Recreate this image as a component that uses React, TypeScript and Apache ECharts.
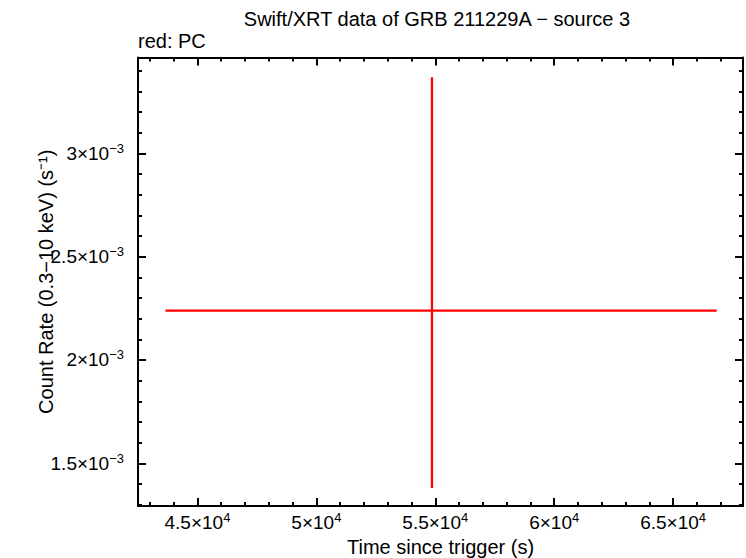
import React from "react";
import * as echarts from "echarts";

// one PC-mode bin: centre, time range and rate range
const times = [54861];
const timeLo = [43655];
const timeHi = [66836];
const rates = [0.0022386];
const rateLo = [0.00138];
const rateHi = [0.003368];

const xMajor = [45000, 50000, 55000, 60000, 65000];
const xMajorLabels = ["4.5", "5", "5.5", "6", "6.5"];
const xExp = "4";
const xMinor = [
  43000, 44000, 46000, 47000, 48000, 49000, 51000, 52000, 53000, 54000, 56000,
  57000, 58000, 59000, 61000, 62000, 63000, 64000, 66000, 67000,
];

const yMajor = [0.0015, 0.002, 0.0025, 0.003];
const yMajorLabels = ["1.5", "2", "2.5", "3"];
const yExp = "\u22123";
const yMinor = [
  0.0013, 0.0014, 0.0016, 0.0017, 0.0018, 0.0019, 0.0021, 0.0022, 0.0023,
  0.0024, 0.0026, 0.0027, 0.0028, 0.0029, 0.0031, 0.0032, 0.0033, 0.0034,
];

const X_MIN = 42500;
const X_MAX = 67940;
const Y_MIN = 0.0012933;
const Y_MAX = 0.0034637;

const FONT = "'Liberation Sans', Arial, Helvetica, sans-serif";
const RED = "#ff0000";

const sciLabel = (ticks: number[], labels: string[], exp: string) => (v: number) => {
  const i = ticks.findIndex((t) => Math.abs(t - v) < Math.abs(t) * 1e-6);
  if (i < 0) return "";
  return `{b|${labels[i]}\u00d710}{s|${exp}}`;
};

const labelRich = {
  b: { fontSize: 19, fontFamily: FONT, color: "#000" },
  s: { fontSize: 13, fontFamily: FONT, color: "#000", padding: [0, 0, 10, 0] },
};

function axisBase(extra: any) {
  return {
    type: "value",
    scale: true,
    splitLine: { show: false },
    axisLine: { show: true, onZero: false, lineStyle: { color: "#000", width: 2 } },
    axisLabel: { show: false },
    nameMoveOverlap: false,
    ...extra,
  };
}

export default function App() {
  const chartRef = React.useRef<HTMLDivElement>(null);

  React.useEffect(() => {
    if (!chartRef.current) return;
    const chart = echarts.init(chartRef.current, undefined, { renderer: "svg" });

    const majorTick = (vals: number[]) => ({
      show: true,
      inside: true,
      length: 8,
      customValues: vals,
      lineStyle: { color: "#000", width: 2 },
    });
    const minorTick = (vals: number[]) => ({
      show: true,
      inside: true,
      length: 4,
      customValues: vals,
      lineStyle: { color: "#000", width: 2 },
    });

    const xs = ["bottom", "top"].flatMap((pos) => [
      axisBase({
        position: pos,
        min: X_MIN,
        max: X_MAX,
        axisTick: majorTick(xMajor),
        axisLabel:
          pos === "bottom"
            ? {
                show: true,
                customValues: xMajor,
                margin: 5,
                formatter: sciLabel(xMajor, xMajorLabels, xExp),
                rich: labelRich,
              }
            : { show: false },
        name: pos === "bottom" ? "Time since trigger (s)" : "",
        nameLocation: "middle",
        nameGap: 31,
        nameTextStyle: { fontSize: 20, fontFamily: FONT, color: "#000" },
      }),
      axisBase({
        position: pos,
        min: X_MIN,
        max: X_MAX,
        axisLine: { show: false },
        axisTick: minorTick(xMinor),
      }),
    ]);

    const ys = ["left", "right"].flatMap((pos) => [
      axisBase({
        position: pos,
        min: Y_MIN,
        max: Y_MAX,
        axisTick: majorTick(yMajor),
        axisLabel:
          pos === "left"
            ? {
                show: true,
                customValues: yMajor,
                margin: 14,
                formatter: sciLabel(yMajor, yMajorLabels, yExp),
                rich: labelRich,
              }
            : { show: false },
        name: pos === "left" ? "Count Rate (0.3\u221210 keV) (s\u207b\u00b9)" : "",
        nameLocation: "middle",
        nameGap: 82,
        nameRotate: 90,
        nameTextStyle: { fontSize: 20, fontFamily: FONT, color: "#000" },
      }),
      axisBase({
        position: pos,
        min: Y_MIN,
        max: Y_MAX,
        axisLine: { show: false },
        axisTick: minorTick(yMinor),
      }),
    ]);

    chart.setOption({
      animation: false,
      backgroundColor: "#fff",
      title: [
        {
          text: "Swift/XRT data of GRB 211229A \u2212 source 3",
          left: 437,
          top: 9,
          textAlign: "center",
          padding: 0,
          textStyle: { fontSize: 20, fontWeight: "normal", fontFamily: FONT, color: "#000" },
        },
        {
          text: "red: PC",
          left: 138,
          top: 31,
          padding: 0,
          textStyle: { fontSize: 20, fontWeight: "normal", fontFamily: FONT, color: "#000" },
        },
      ],
      grid: {
        left: 138,
        right: 3,
        top: 57.5,
        bottom: 52,
        containLabel: false,
        outerBoundsMode: "none",
      },
      xAxis: xs,
      yAxis: ys,
      series: [
        {
          type: "custom",
          xAxisIndex: 0,
          yAxisIndex: 0,
          data: times.map((t, i) => [t, rates[i], timeLo[i], timeHi[i], rateLo[i], rateHi[i]]),
          encode: { x: [0, 2, 3], y: [1, 4, 5] },
          renderItem: (_params: any, api: any) => {
            const x = api.value(0);
            const y = api.value(1);
            const l = api.coord([api.value(2), y]);
            const r = api.coord([api.value(3), y]);
            const b = api.coord([x, api.value(4)]);
            const t = api.coord([x, api.value(5)]);
            const style = { stroke: RED, lineWidth: 2.3 };
            return {
              type: "group",
              children: [
                { type: "line", shape: { x1: l[0], y1: l[1], x2: r[0], y2: r[1] }, style },
                { type: "line", shape: { x1: b[0], y1: b[1], x2: t[0], y2: t[1] }, style },
              ],
            };
          },
        },
      ],
    });

    return () => {
      chart.dispose();
    };
  }, []);

  return (
    <div
      ref={chartRef}
      style={{ position: "absolute", left: 0, top: 0, width: 746, height: 558 }}
    />
  );
}
